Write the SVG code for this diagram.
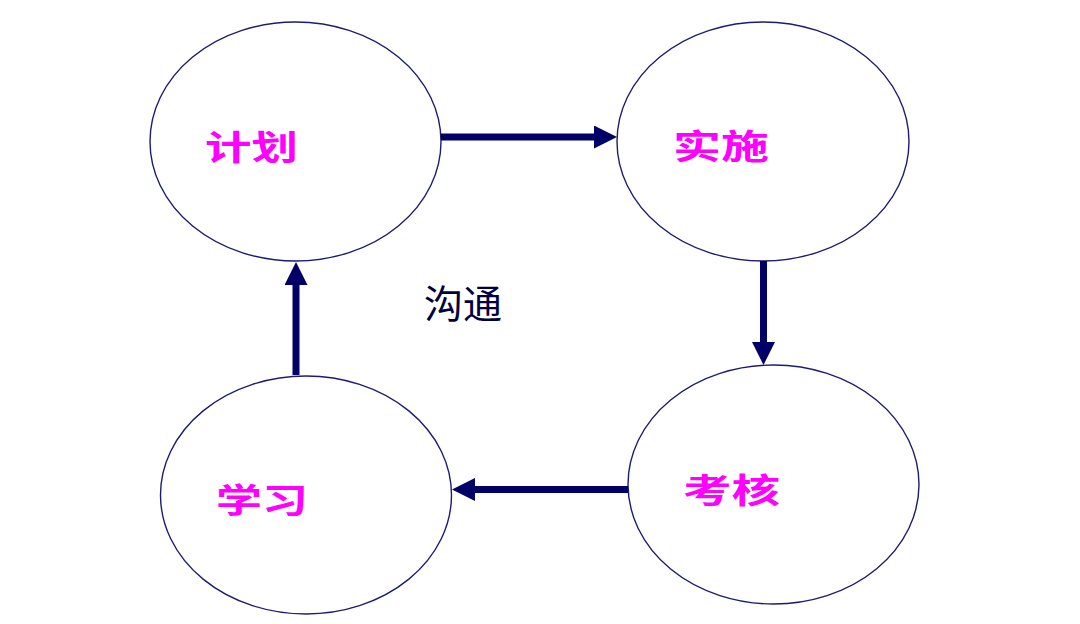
<svg xmlns="http://www.w3.org/2000/svg" width="1080" height="624" viewBox="0 0 1080 624">
<style>
.node ellipse{fill:#fff;stroke:#1c1c72;stroke-width:1.4}
.lbl{font-family:"Noto Sans CJK SC",sans-serif;font-weight:bold;font-size:34px;fill:#ff00ff;dominant-baseline:central}
.conn line{stroke:#000066;stroke-width:7}
.note{font-family:"Noto Sans CJK SC",sans-serif;font-size:39px;fill:#000040;dominant-baseline:central}
</style>
<defs>
<marker id="ah" markerUnits="userSpaceOnUse" markerWidth="23" markerHeight="23" refX="0" refY="11.5" orient="auto">
<path d="M0,0 L23,11.5 L0,23 Z" fill="#000066"/>
</marker>
</defs>
<rect width="1080" height="624" fill="#fff"/>
<g id="n-plan" class="node">
<ellipse cx="295.5" cy="141.5" rx="145.5" ry="119.5"/>
<text class="lbl" x="205" y="145" textLength="93" lengthAdjust="spacingAndGlyphs">计划</text>
</g>
<g id="n-do" class="node">
<ellipse cx="763" cy="141.5" rx="146" ry="119.5"/>
<text class="lbl" x="673" y="144.5" textLength="96" lengthAdjust="spacingAndGlyphs">实施</text>
</g>
<g id="n-check" class="node">
<ellipse cx="773.5" cy="484.5" rx="145.5" ry="119.5"/>
<text class="lbl" x="683" y="488" textLength="97" lengthAdjust="spacingAndGlyphs">考核</text>
</g>
<g id="n-learn" class="node">
<ellipse cx="306" cy="495" rx="145.5" ry="119"/>
<text class="lbl" x="216" y="498" textLength="92" lengthAdjust="spacingAndGlyphs">学习</text>
</g>
<g id="connectors" class="conn">
<line x1="441" y1="137" x2="594" y2="137" marker-end="url(#ah)"/>
<line x1="763.5" y1="261" x2="763.5" y2="342" marker-end="url(#ah)"/>
<line x1="628" y1="489.5" x2="475" y2="489.5" marker-end="url(#ah)"/>
<line x1="296" y1="375" x2="296" y2="285" marker-end="url(#ah)"/>
</g>
<text class="note" x="424" y="301">沟通</text>
</svg>
